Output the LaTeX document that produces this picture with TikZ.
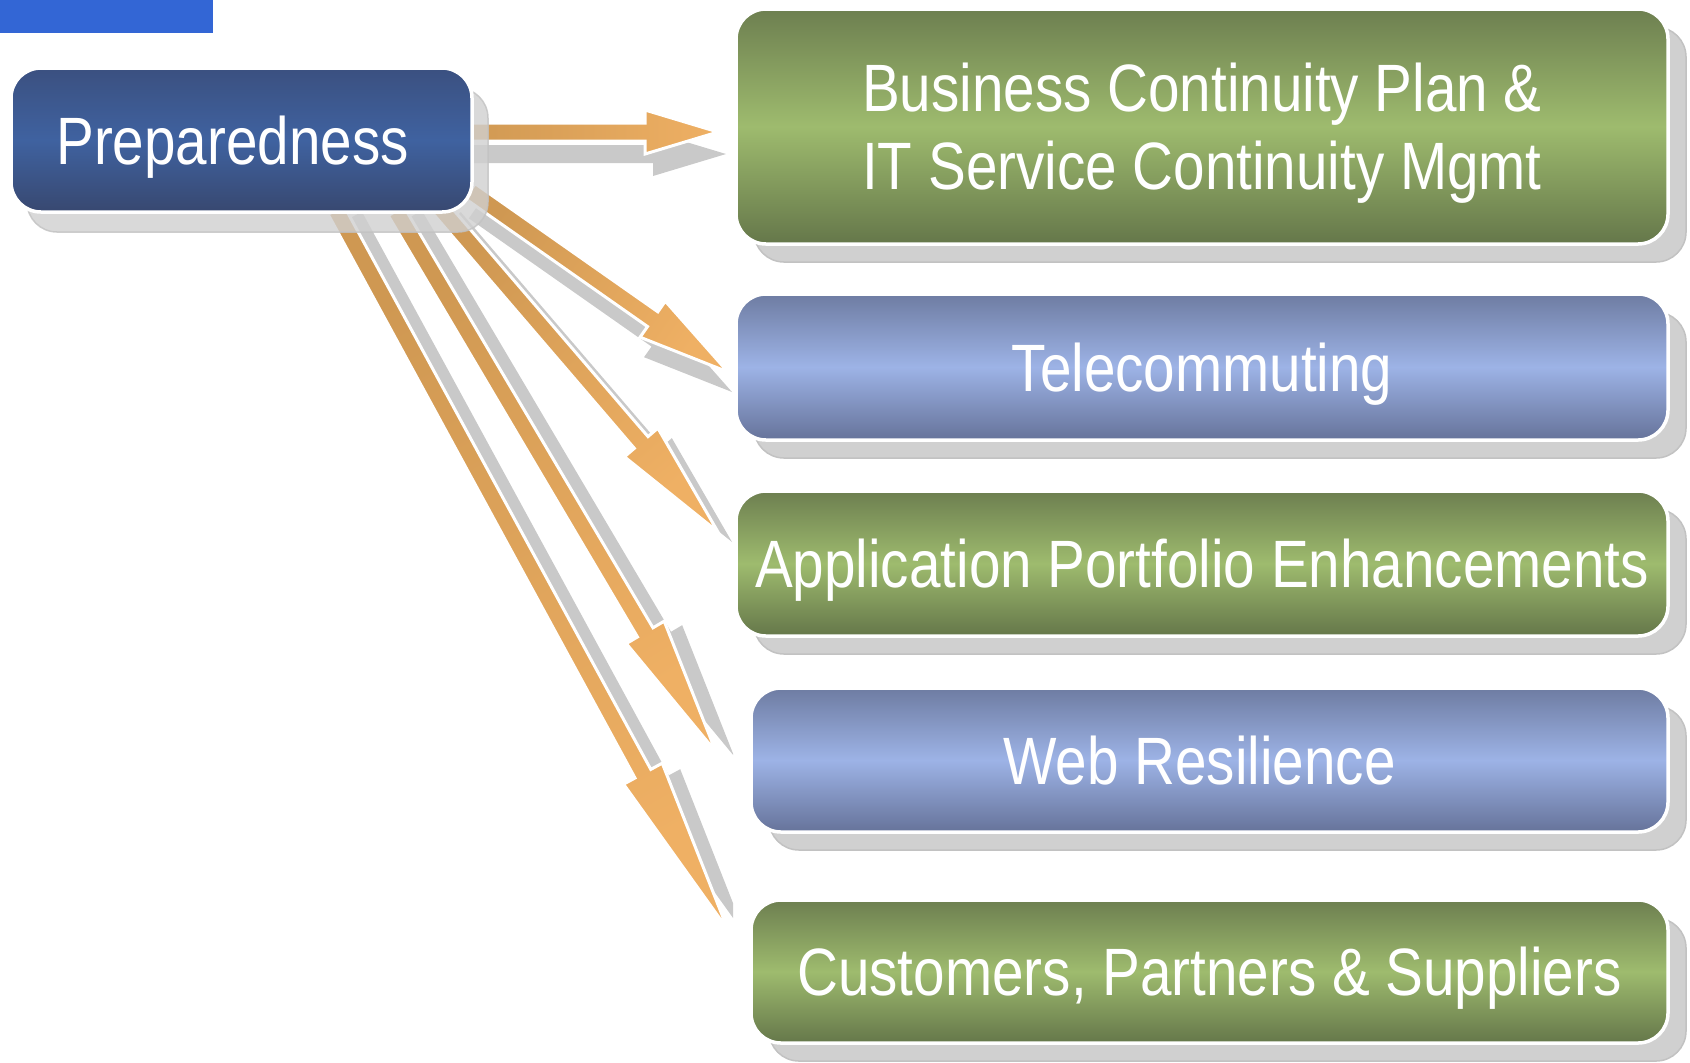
\documentclass[tikz,border=0pt]{standalone}
\usepackage{fontspec}
\setmainfont{Liberation Sans}[FakeStretch=0.845]
\usetikzlibrary{calc,shadows}
\definecolor{barblue}{HTML}{3366D5}
\definecolor{prepT}{HTML}{3B5080}
\definecolor{prepM}{HTML}{3F62A0}
\definecolor{prepB}{HTML}{384870}
\definecolor{gT}{HTML}{6D7F50}
\definecolor{gM}{HTML}{9EBB6E}
\definecolor{gB}{HTML}{65774A}
\definecolor{lT}{HTML}{6E7CA2}
\definecolor{lM}{HTML}{9DB3E6}
\definecolor{lB}{HTML}{66739A}
\definecolor{shadowc}{HTML}{D0D0D0}
\definecolor{shadowd}{HTML}{C2C2C2}
\definecolor{arrD}{HTML}{CF9852}
\definecolor{arrL}{HTML}{EFB064}
\definecolor{ashc}{HTML}{C9C9C9}
\pgfdeclarelayer{ashadow}
\pgfdeclarelayer{arrowl}
\pgfsetlayers{ashadow,arrowl,main}
\newcommand\fatarrow[4]{%
  \coordinate (fa-h) at ($(#3)!#4!(#2)$);
  \path[#1] ($(#2)!4.5pt!90:(#3)$) -- ($(fa-h)!4.5pt!90:(#3)$) -- ($(fa-h)!11pt!90:(#3)$) -- (#3)
    -- ($(fa-h)!11pt!-90:(#3)$) -- ($(fa-h)!4.5pt!-90:(#3)$) -- ($(#2)!4.5pt!-90:(#3)$) -- cycle;
}
\newcommand\fatshadow[4]{%
  \coordinate (fs-a) at ($(#1)+#4$);
  \coordinate (fs-b) at ($(#2)+#4$);
  \fatarrow{ashadowst}{fs-a}{fs-b}{#3}%
}
\tikzset{
  box/.style={rounded corners=15pt, draw=white, line width=1.75pt, inner sep=0pt,
    text=white, font=\fontsize{33.5}{39}\selectfont, align=center, text depth=0pt},
  boxshadow/.style={general shadow={shadow xshift=9pt, shadow yshift=-9pt, fill=shadowc, draw=shadowd, line width=0.75pt}},
  prepbox/.style={box, top color=prepT, bottom color=prepB, middle color=prepM,
    general shadow={shadow xshift=8pt, shadow yshift=-10pt, fill=shadowc, draw=shadowd, line width=0.75pt, opacity=0.8}},
  greenbox/.style={box, boxshadow, top color=gT, bottom color=gB, middle color=gM},
  lilacbox/.style={box, boxshadow, top color=lT, bottom color=lB, middle color=lM},
  arrowst/.style={draw=white, line width=1.5pt, left color=arrD, right color=arrL},
  ashadowst/.style={fill=ashc}
}
\begin{document}
\begin{tikzpicture}[x=0.5pt, y=-0.5pt]
\useasboundingbox (0,0) rectangle (1690,1062);
\fill[barblue] (0,0) rectangle (213,33);

% boxes
\node[prepbox, minimum width=230.5pt, minimum height=72pt] (prep) at (241.5,140) {Preparedness\hspace*{9pt}};

\node[greenbox, minimum width=466pt, minimum height=117.5pt] (bcp) at (1202,126.5)
  {Business Continuity Plan \&\\IT Service Continuity Mgmt};

\node[lilacbox, minimum width=466pt, minimum height=73pt] (tele) at (1202,367) {Telecommuting};

\node[greenbox, minimum width=466pt, minimum height=72.5pt] (app) at (1202,563.5) {Application Portfolio Enhancements};

\node[lilacbox, minimum width=458.5pt, minimum height=72pt] (web) at (1209.5,760) {Web Resilience\hspace*{10pt}};

\node[greenbox, minimum width=458.5pt, minimum height=71.5pt] (cust) at (1209.5,971.5) {Customers, Partners \& Suppliers};

% arrow end points
\coordinate (s1) at (460,132);  \coordinate (t1) at (718,132);
\coordinate (s2) at (470,191);  \coordinate (t2) at (728,372);
\coordinate (s3) at (440,208);  \coordinate (t3) at (718,532);
\coordinate (s4) at (396,211);  \coordinate (t4) at (716,752);
\coordinate (s5) at (336,210);  \coordinate (t5) at (728,930);

\begin{pgfonlayer}{ashadow}
  \begin{scope}
    \clip (0,0) rectangle (733,1062);
    \fatshadow{s1}{t1}{36.5pt}{(8,22)}
    \fatshadow{s2}{t2}{46pt}{(4,20)}
    \fatshadow{s3}{t3}{59pt}{(14,10)}
    \fatshadow{s4}{t4}{69.5pt}{(18,4)}
    \fatshadow{s5}{t5}{89pt}{(18,6)}
  \end{scope}
\end{pgfonlayer}

\begin{pgfonlayer}{arrowl}
  \fatarrow{arrowst, shading angle=90}{s1}{t1}{36.5pt}
  \fatarrow{arrowst, shading angle=55}{s2}{t2}{46pt}
  \fatarrow{arrowst, shading angle=41}{s3}{t3}{59pt}
  \fatarrow{arrowst, shading angle=31}{s4}{t4}{69.5pt}
  \fatarrow{arrowst, shading angle=29}{s5}{t5}{89pt}
\end{pgfonlayer}
\end{tikzpicture}
\end{document}
